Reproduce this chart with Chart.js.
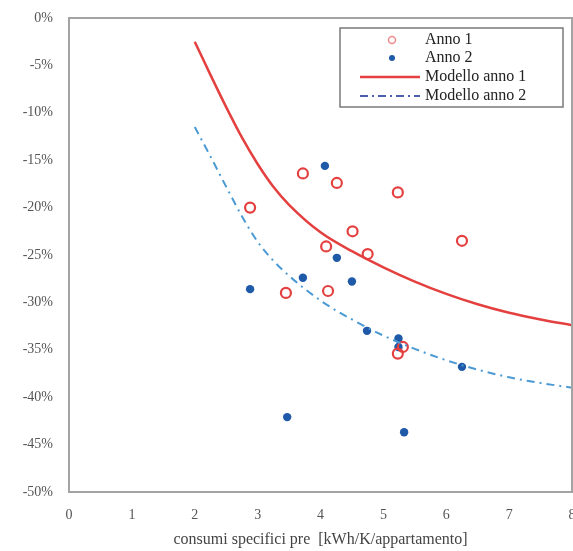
<!DOCTYPE html>
<html lang="it">
  <head>
    <meta charset="UTF-8" />
    <title>Modello anno 1 / anno 2</title>
    <script src="https://cdn.jsdelivr.net/npm/chart.js"></script>
    <style>
      html, body { margin: 0; padding: 0; background: #fff; overflow: hidden; }
      #wrap { width: 573px; height: 551px; }
    </style>
  </head>
  <body>
    <div id="wrap">
      <canvas id="myChart" width="573" height="551"></canvas>
    </div>

    <script>
      // Anno 1 (cerchi vuoti rossi)
      const anno1X = [2.88, 3.45, 3.72, 4.09, 4.12, 4.26, 4.51, 4.75, 5.23, 5.23, 5.31, 6.25];
      const anno1Y = [-20.0, -29.0, -16.4, -24.1, -28.8, -17.4, -22.5, -24.9, -18.4, -35.4, -34.7, -23.5];

      // Anno 2 (punti pieni blu)
      const anno2X = [2.88, 3.47, 3.72, 4.07, 4.26, 4.5, 4.74, 5.24, 5.24, 5.33, 6.25];
      const anno2Y = [-28.6, -42.1, -27.4, -15.6, -25.3, -27.8, -33.0, -33.8, -34.7, -43.7, -36.8];

      // curve del modello
      const modelX = [2, 2.25, 2.5, 2.75, 3, 3.25, 3.5, 4, 4.5, 5, 5.5, 6, 6.5, 7, 7.5, 8];
      const modello1Y = [-2.5, -6.0, -9.4, -12.6, -15.4, -17.8, -19.7, -22.6, -24.6, -26.3, -27.8, -29.1, -30.2, -31.1, -31.8, -32.4];
      const modello2Y = [-11.5, -14.6, -17.8, -20.9, -23.6, -25.6, -27.2, -29.8, -31.8, -33.5, -34.9, -36.1, -37.1, -37.9, -38.5, -39.0];

      const xTicks = [0, 1, 2, 3, 4, 5, 6, 7, 8];
      const yTicks = [0, -5, -10, -15, -20, -25, -30, -35, -40, -45, -50];

      const RED = "#e3403f";
      const BLUE = "#1f5aa8";
      const BLUE_LINE = "#4b9ad4";
      const SERIF = "'Liberation Serif', 'DejaVu Serif', serif";

      function toPoints(xs, ys) {
        return xs.map((x, i) => ({ x: x, y: ys[i] }));
      }

      // cornice grigia intorno all'area del grafico
      const frame = {
        id: "frame",
        afterDraw(chart) {
          const a = chart.chartArea;
          const ctx = chart.ctx;
          ctx.save();
          ctx.strokeStyle = "#a3a3a3";
          ctx.lineWidth = 2;
          ctx.strokeRect(a.left, a.top, a.right - a.left, a.bottom - a.top);
          ctx.restore();
        },
      };

      // legenda con bordo, in alto a destra
      const boxLegend = {
        id: "boxLegend",
        afterDraw(chart) {
          const ctx = chart.ctx;
          const x0 = 340, y0 = 28, w = 223, h = 79;
          ctx.save();
          ctx.fillStyle = "#fff";
          ctx.fillRect(x0, y0, w, h);
          ctx.strokeStyle = "#7a7a7a";
          ctx.lineWidth = 1.5;
          ctx.strokeRect(x0, y0, w, h);

          const rows = [40, 58, 77, 96];
          const sx = 392;
          // Anno 1
          ctx.beginPath();
          ctx.arc(sx, rows[0], 3.5, 0, Math.PI * 2);
          ctx.strokeStyle = "#f08a8a";
          ctx.lineWidth = 1.5;
          ctx.stroke();
          // Anno 2
          ctx.beginPath();
          ctx.arc(sx, rows[1], 3, 0, Math.PI * 2);
          ctx.fillStyle = BLUE;
          ctx.fill();
          // Modello anno 1
          ctx.beginPath();
          ctx.moveTo(360, rows[2]);
          ctx.lineTo(420, rows[2]);
          ctx.strokeStyle = RED;
          ctx.lineWidth = 2.5;
          ctx.stroke();
          // Modello anno 2
          ctx.beginPath();
          ctx.setLineDash([8, 4, 2, 4]);
          ctx.moveTo(360, rows[3]);
          ctx.lineTo(420, rows[3]);
          ctx.strokeStyle = "#4d5fb0";
          ctx.lineWidth = 2;
          ctx.stroke();
          ctx.setLineDash([]);

          ctx.fillStyle = "#222";
          ctx.font = "16px " + SERIF;
          ctx.textBaseline = "middle";
          ctx.textAlign = "left";
          const labels = ["Anno 1", "Anno 2", "Modello anno 1", "Modello anno 2"];
          labels.forEach((t, i) => ctx.fillText(t, 425, rows[i]));
          ctx.restore();
        },
      };

      function drawChart() {
        const ctx = document.getElementById("myChart");

        const data = {
          datasets: [
            {
              label: "Modello anno 1",
              data: toPoints(modelX, modello1Y),
              showLine: true,
              borderColor: RED,
              borderWidth: 2.5,
              pointRadius: 0,
              cubicInterpolationMode: "monotone",
            },
            {
              label: "Modello anno 2",
              data: toPoints(modelX, modello2Y),
              showLine: true,
              borderColor: BLUE_LINE,
              borderWidth: 2,
              borderDash: [8, 5, 2, 5],
              pointRadius: 0,
              cubicInterpolationMode: "monotone",
            },
            {
              label: "Anno 1",
              data: toPoints(anno1X, anno1Y),
              pointRadius: 5,
              pointBorderWidth: 2.2,
              pointBorderColor: RED,
              pointBackgroundColor: "rgba(0,0,0,0)",
            },
            {
              label: "Anno 2",
              data: toPoints(anno2X, anno2Y),
              pointRadius: 4.2,
              pointBorderWidth: 0,
              pointBackgroundColor: BLUE,
              pointBorderColor: BLUE,
            },
          ],
        };

        const options = {
          responsive: false,
          animation: false,
          layout: { autoPadding: false, padding: { top: 18, right: 1, left: 0, bottom: 0 } },
          plugins: {
            legend: { display: false },
            tooltip: { enabled: false },
          },
          scales: {
            x: {
              type: "linear",
              min: 0,
              max: 8,
              grid: { display: false, drawTicks: false },
              border: { display: false },
              afterBuildTicks: (scale) => {
                scale.ticks = xTicks.map((v) => ({ value: v }));
              },
              ticks: {
                padding: 15,
                color: "#555",
                font: { family: SERIF, size: 14 },
              },
              title: {
                display: true,
                text: "consumi specifici pre  [kWh/K/appartamento]",
                color: "#444",
                font: { family: SERIF, size: 16 },
                padding: { top: 0, bottom: 2 },
              },
              afterFit: (scale) => {
                scale.height = 59;
                scale.paddingLeft = 0;
                scale.paddingRight = 0;
              },
            },
            y: {
              type: "linear",
              min: -50,
              max: 0,
              grid: { display: false, drawTicks: false },
              border: { display: false },
              afterBuildTicks: (scale) => {
                scale.ticks = yTicks.map((v) => ({ value: v }));
              },
              ticks: {
                padding: 16,
                color: "#555",
                font: { family: SERIF, size: 14 },
                callback: (v) => v + "%",
              },
              afterFit: (scale) => {
                scale.width = 69;
                scale.paddingTop = 0;
                scale.paddingBottom = 0;
              },
            },
          },
        };

        new Chart(ctx, {
          type: "scatter",
          data: data,
          options: options,
          plugins: [frame, boxLegend],
        });
      }
      drawChart();
    </script>
  </body>
</html>
